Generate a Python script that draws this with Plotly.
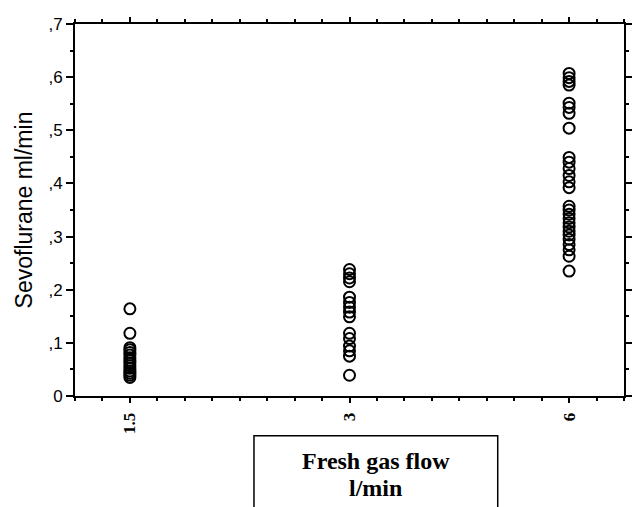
import plotly.graph_objects as go

# Data
categories = ["1.5", "3", "6"]
flow_15 = [0.164, 0.118, 0.091, 0.087, 0.082, 0.077, 0.072, 0.067, 0.062, 0.057,
           0.052, 0.047, 0.043, 0.039, 0.035]
flow_3 = [0.238, 0.230, 0.222, 0.215, 0.186, 0.176, 0.167, 0.158, 0.149,
          0.118, 0.108, 0.094, 0.085, 0.075, 0.039]
flow_6 = [0.607, 0.599, 0.592, 0.585, 0.551, 0.543, 0.532, 0.504,
          0.449, 0.440, 0.428, 0.415, 0.403, 0.392,
          0.357, 0.350, 0.342, 0.334, 0.326, 0.318, 0.310, 0.303, 0.295,
          0.285, 0.275, 0.263, 0.235]
y_tickvals = [0, 0.1, 0.2, 0.3, 0.4, 0.5, 0.6, 0.7]
y_ticktext = ["0", ",1", ",2", ",3", ",4", ",5", ",6", ",7"]
x_title_lines = ["Fresh gas flow", "l/min"]
y_title = "Sevoflurane ml/min"

series = [flow_15, flow_3, flow_6]
xs, ys = [], []
for i, vals in enumerate(series):
    xs += [i] * len(vals)
    ys += vals

fig = go.Figure()
fig.add_trace(go.Scatter(
    x=xs, y=ys, mode="markers",
    marker=dict(symbol="circle-open", size=11, color="black",
                line=dict(color="black", width=2)),
    showlegend=False, hoverinfo="skip"))

# page body has an 8px default margin, so the figure is sized to fit the window
fig.update_layout(
    width=632, height=499,
    margin=dict(l=67, r=13, t=7, b=111),
    paper_bgcolor="white", plot_bgcolor="white",
    font=dict(family="Liberation Sans, Arial", color="black", size=17),
)
fig.update_xaxes(
    range=[-0.25, 2.25], tickvals=[0, 1, 2], ticktext=categories,
    tickangle=-90, tickfont=dict(family="Liberation Serif, Times New Roman",
                                 size=17, weight="bold", color="black"),
    ticklabelstandoff=3,
    showgrid=False, zeroline=False, showline=True, linecolor="black", linewidth=2,
    mirror="allticks", ticks="outside", ticklen=5, tickwidth=2, tickcolor="black",
    minor=dict(dtick=0.125, tick0=0, ticks="outside", ticklen=3, tickwidth=1.5,
               tickcolor="black", showgrid=False),
)
fig.update_yaxes(
    range=[0, 0.7], tickvals=y_tickvals, ticktext=y_ticktext,
    tickfont=dict(family="Liberation Sans, Arial", size=17, color="black"),
    title=dict(text=y_title, font=dict(family="Liberation Sans, Arial", size=23),
               standoff=9),
    showgrid=False, zeroline=False, showline=True, linecolor="black", linewidth=2,
    mirror="allticks", ticks="outside", ticklen=7, tickwidth=2, tickcolor="black",
    minor=dict(dtick=0.05, tick0=0, ticks="outside", ticklen=3, tickwidth=1.5,
               tickcolor="black", showgrid=False),
)

# Box around the x-axis title
fig.add_shape(type="rect", xref="paper", yref="paper",
              x0=0.326, x1=0.770, y0=-0.40, y1=-0.107,
              line=dict(color="black", width=1.5), fillcolor="rgba(0,0,0,0)")
fig.add_annotation(xref="paper", yref="paper", x=0.548, y=-0.176,
                   text="<b>" + x_title_lines[0] + "</b>", showarrow=False,
                   font=dict(family="Liberation Serif, Times New Roman", size=24,
                             color="black"), yanchor="middle")
fig.add_annotation(xref="paper", yref="paper", x=0.548, y=-0.247,
                   text="<b>" + x_title_lines[1] + "</b>", showarrow=False,
                   font=dict(family="Liberation Serif, Times New Roman", size=24,
                             color="black"), yanchor="middle")

fig.write_html("out.html")
